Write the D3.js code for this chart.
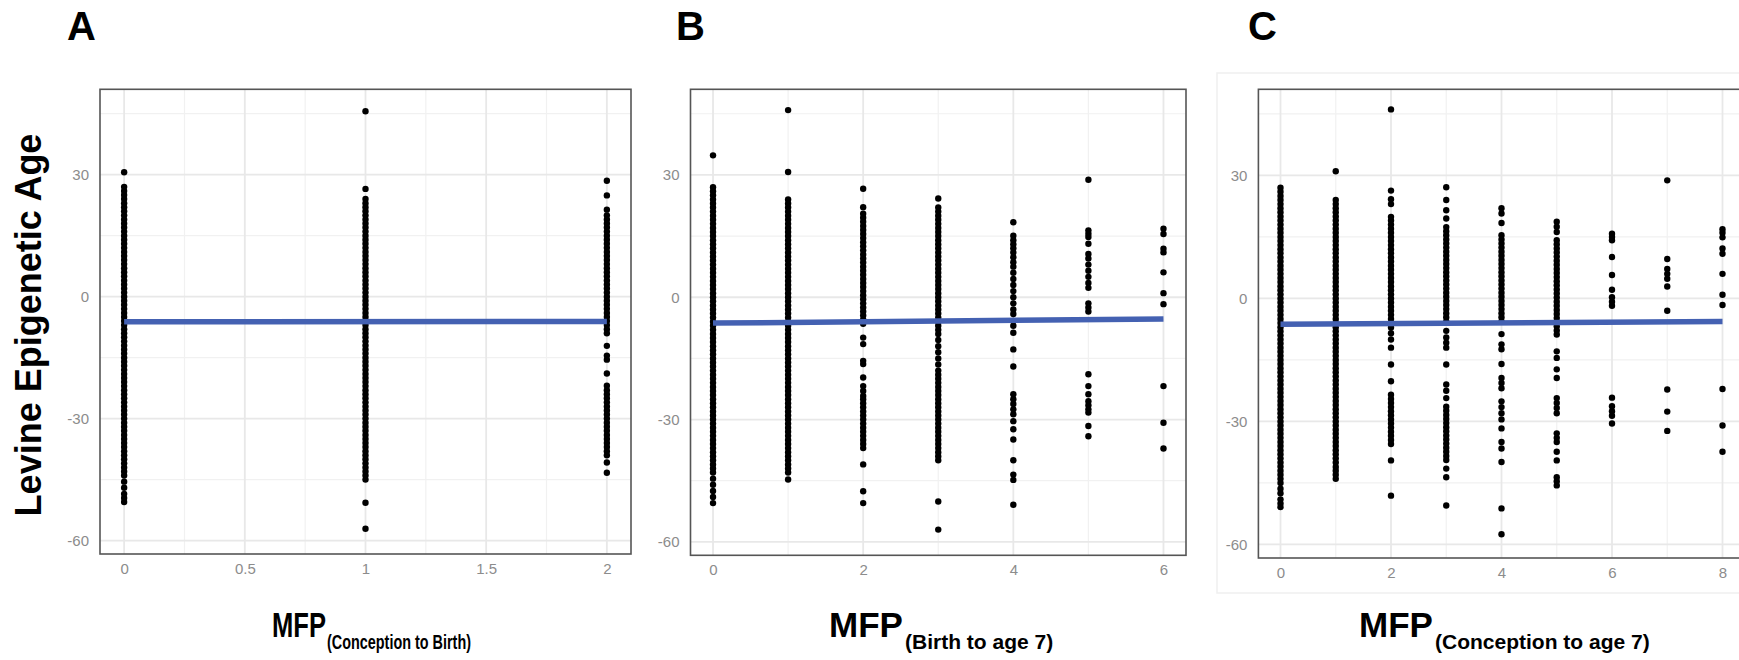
<!DOCTYPE html>
<html>
<head>
<meta charset="utf-8">
<script src="https://cdn.jsdelivr.net/npm/d3@7"></script>
<style>
  body { margin: 0; background: #fff; }
  svg { display: block; font-family: "Liberation Sans", Arial, sans-serif; }
</style>
</head>
<body>
<svg width="1739" height="660"></svg>
<script>
// ---- data ----
// x categories (MFP counts) per panel
const mfpA = [0, 1, 2]
const mfpB = [0, 1, 2, 3, 4, 5, 6]
const mfpC = [0, 1, 2, 3, 4, 5, 6, 7, 8]

// tick labels
const yTicks = [-60, -30, 0, 30]
const yMinor = [-45, -15, 15, 45]
const xTicksA = [0, 0.5, 1, 1.5, 2]
const xMinorA = [0.25, 0.75, 1.25, 1.75]
const xTicksB = [0, 2, 4, 6]
const xMinorB = [1, 3, 5]
const xTicksC = [0, 2, 4, 6, 8]
const xMinorC = [1, 3, 5, 7]

// panel A: Levine epigenetic age per MFP (conception to birth)
const aCol0 = [30.6, 27, 26, 25, 24, 23, 22, 21, 20, 19, 18, 17, 16, 15, 14, 13, 12, 11, 10, 9, 8, 7, 6, 5, 4, 3, 2, 1, 0,
  -1, -2, -3, -4, -5, -6, -7, -8, -9, -10, -11, -12, -13, -14, -15, -16, -17, -18, -19, -20, -21, -22, -23, -24, -25,
  -26, -27, -28, -29, -30, -31, -32, -33, -34, -35, -36, -37, -38, -39, -40, -41, -42, -43, -44, -45.5, -47, -48.5, -49.5, -50.5]
const aCol1 = [45.6, 26.5, 24, 23, 22, 21, 20, 19, 18, 17, 16, 15, 14, 13, 12, 11, 10, 9, 8, 7, 6, 5, 4, 3, 2, 1, 0,
  -1, -2, -3, -4, -5, -6, -7, -8, -9, -10, -11, -12, -13, -14, -15, -16, -17, -18, -19, -20, -21, -22, -23, -24, -25,
  -26, -27, -28, -29, -30, -31, -32, -33, -34, -35, -36, -37, -38, -39, -40, -41, -42, -43, -44, -45, -50.7, -57.1]
const aCol2 = [28.5, 24.9, 21.4, 20, 19, 18, 17, 16, 15, 14, 13, 12, 11, 10, 9, 8, 7, 6, 5, 4, 3, 2, 1, 0,
  -1, -2, -3, -4, -5, -6, -7, -8, -9, -12.1, -14.5, -15.5, -18.9, -21.9, -23, -24, -25, -26, -27, -28, -29, -30,
  -31, -32, -33, -34, -35, -36, -37, -38, -39, -40.8, -43.3]

// panel B: per MFP (birth to age 7)
const bCol0 = [34.8, 27, 26, 25, 24, 23, 22, 21, 20, 19, 18, 17, 16, 15, 14, 13, 12, 11, 10, 9, 8, 7, 6, 5, 4, 3, 2, 1, 0,
  -1, -2, -3, -4, -5, -6, -7, -8, -9, -10, -11, -12, -13, -14, -15, -16, -17, -18, -19, -20, -21, -22, -23, -24, -25,
  -26, -27, -28, -29, -30, -31, -32, -33, -34, -35, -36, -37, -38, -39, -40, -41, -42, -43, -44.5, -46, -47.5, -49, -50.5]
const bCol1 = [45.9, 30.7, 24, 23, 22, 21, 20, 19, 18, 17, 16, 15, 14, 13, 12, 11, 10, 9, 8, 7, 6, 5, 4, 3, 2, 1, 0,
  -1, -2, -3, -4, -5, -6, -7, -8, -9, -10, -11, -12, -13, -14, -15, -16, -17, -18, -19, -20, -21, -22, -23, -24, -25,
  -26, -27, -28, -29, -30, -31, -32, -33, -34, -35, -36, -37, -38, -39, -40, -41, -42, -43, -44.7]
const bCol2 = [26.6, 22.1, 20.5, 19.5, 18.5, 17.5, 16.5, 15.5, 14.5, 13.5, 12.5, 11.5, 10.5, 9.5, 8.5, 7.5, 6.5, 5.5,
  4.5, 3.5, 2.5, 1.5, 0.5, -0.5, -1.5, -2.5, -3.5, -4.5, -5.5, -6.5, -9.9, -11.5, -15.6, -16.4, -19.7, -21.8, -23, -24.2,
  -25, -26, -27, -28, -29, -30, -31, -32, -33, -34, -35, -36, -37, -41, -47.6, -50.5]
const bCol3 = [24.2, 22, 21, 20, 19, 18, 17, 16, 15, 14, 13, 12, 11, 10, 9, 8, 7, 6, 5, 4, 3, 2, 1, 0,
  -1, -2, -3, -4, -5, -6, -7, -8, -9, -10.5, -12, -13.5, -15, -16.5, -18, -19, -20, -21, -22, -23, -24, -25,
  -26, -27, -28, -29, -30, -31, -32, -33, -34, -35, -36, -37, -38, -39, -40, -50.1, -57]
const bCol4 = [18.4, 15.1, 14, 13, 12, 11, 9.8, 8.6, 7.5, 6, 4.5, 3, 1.5, 0, -1.5, -3, -4.1, -5.8, -7, -8.7, -12.8, -17,
  -23.8, -25, -26.2, -27.5, -28.7, -30.4, -32.4, -34.9, -40, -43.5, -44.8, -50.9]
const bCol5 = [28.8, 16.4, 15.6, 14.8, 13.1, 10.6, 9.5, 8, 6.5, 5, 3.5, 2.3, -1.5, -2.5, -3.5, -18.9, -21.8, -23.8,
  -25.5, -26.5, -27.5, -28.3, -31.6, -34.1]
const bCol6 = [16.8, 15.5, 11.9, 11, 6.1, 1, -1.7, -21.8, -30.8, -37.1]

// panel C: per MFP (conception to age 7)
const cCol0 = [27, 26, 25, 24, 23, 22, 21, 20, 19, 18, 17, 16, 15, 14, 13, 12, 11, 10, 9, 8, 7, 6, 5, 4, 3, 2, 1, 0,
  -1, -2, -3, -4, -5, -6, -7, -8, -9, -10, -11, -12, -13, -14, -15, -16, -17, -18, -19, -20, -21, -22, -23, -24, -25,
  -26, -27, -28, -29, -30, -31, -32, -33, -34, -35, -36, -37, -38, -39, -40, -41, -42, -43, -44, -45, -46.4, -47.5, -49, -50, -50.9]
const cCol1 = [31, 24, 23, 22, 21, 20, 19, 18, 17, 16, 15, 14, 13, 12, 11, 10, 9, 8, 7, 6, 5, 4, 3, 2, 1, 0,
  -1, -2, -3, -4, -5, -6, -7, -8, -9, -10, -11, -12, -13, -14, -15, -16, -17, -18, -19, -20, -21, -22, -23, -24, -25,
  -26, -27, -28, -29, -30, -31, -32, -33, -34, -35, -36, -37, -38, -39, -40, -41.1, -42, -43, -44]
const cCol2 = [46.1, 26.3, 24.2, 23, 19.9, 19, 18, 17, 16, 15, 14, 13, 12, 11, 10, 9, 8, 7, 6, 5, 4, 3, 2, 1, 0,
  -1, -2, -3, -4, -5, -7.1, -8.5, -10, -12, -16.1, -20.2, -23.5, -24.5, -25.5, -26.5, -27.5, -28.5, -29.5, -30.5,
  -31.5, -32.5, -33.5, -34.5, -35.5, -39.5, -48.1]
const cCol3 = [27.1, 24, 21.5, 19.5, 17.4, 16.4, 15.4, 14.4, 13.4, 12.4, 11.4, 10.4, 9.4, 8.4, 7.4, 6.4, 5.4, 4.4, 3.4,
  2.4, 1.4, 0.4, -0.6, -1.6, -2.6, -3.6, -4.6, -5.6, -7.9, -9.5, -10.8, -12, -16.1, -21, -22.5, -24.3, -26.4, -27.4,
  -28.4, -29.4, -30.4, -31.4, -32.4, -33.4, -34.4, -35.4, -36.4, -37.4, -38.4, -39.4, -41.5, -43.6, -50.5]
const cCol4 = [22, 20.7, 18.4, 15.4, 14.4, 13.4, 12.4, 11.4, 10.4, 9.4, 8.4, 7.4, 6.4, 5.4, 4.4, 3.4, 2.4, 1.4, 0.4,
  -0.6, -1.6, -2.6, -3.6, -4.6, -5.6, -8.7, -11.2, -12.4, -16, -19.4, -20.6, -21.9, -25.1, -26.5, -28, -29.5, -31.7,
  -35, -36.6, -39.9, -51.2, -57.5]
const cCol5 = [18.7, 17.5, 16.2, 14.2, 13.2, 12.2, 11.2, 10.2, 9.2, 8.2, 7.2, 6.2, 5.2, 4.2, 3.2, 2.2, 1.2, 0.2, -0.8,
  -1.8, -2.8, -3.8, -4.8, -5.8, -6.8, -7.8, -8.8, -12.9, -14.5, -17.3, -19.4, -24.3, -25.5, -26.7, -28, -32.9, -34,
  -35, -37.4, -39.5, -43.6, -44.6, -45.6]
const cCol6 = [15.8, 15, 14.2, 10.1, 5.7, 2.1, 0.3, -0.8, -1.8, -24.2, -26.3, -27.5, -28.6, -30.5]
const cCol7 = [28.8, 9.6, 7.2, 6, 4.8, 2.9, -3, -22.2, -27.6, -32.3]
const cCol8 = [16.9, 16, 14.9, 12.2, 10.9, 6, 0.9, -1.6, -22.1, -31, -37.4]

// linear fit lines (value at first and last MFP)
const fitA = [-6.2, -6.1]
const fitB = [-6.35, -5.35]
const fitC = [-6.3, -5.65]

const subtitles = ['(Conception to Birth)', '(Birth to age 7)', '(Conception to age 7)']

// ---- layout ----
const svg = d3.select('svg')
const yDomain = [-63.3, 51]

const panels = [
  { letter: 'A', letterX: 67, mfp: mfpA, cols: [aCol0, aCol1, aCol2], fit: fitA,
    xDomain: [-0.1, 2.1], left: 100, right: 631, top: 89.3, bottom: 554,
    ticks: xTicksA, minor: xMinorA, titleX: 272, mfpLen: 54, subLen: 144, sub: subtitles[0] },
  { letter: 'B', letterX: 676, mfp: mfpB, cols: [bCol0, bCol1, bCol2, bCol3, bCol4, bCol5, bCol6], fit: fitB,
    xDomain: [-0.3, 6.3], left: 690.5, right: 1186, top: 89.3, bottom: 555.3,
    ticks: xTicksB, minor: xMinorB, titleX: 829, sub: subtitles[1] },
  { letter: 'C', letterX: 1248, mfp: mfpC, cols: [cCol0, cCol1, cCol2, cCol3, cCol4, cCol5, cCol6, cCol7, cCol8], fit: fitC,
    xDomain: [-0.4, 8.4], left: 1258.4, right: 1744.6, top: 89.3, bottom: 558,
    ticks: xTicksC, minor: xMinorC, titleX: 1359, sub: subtitles[2] }
]

// faint edge of the pasted panel C image
svg.append('rect')
  .attr('x', 1217).attr('y', 73).attr('width', 560).attr('height', 520)
  .attr('fill', 'none').attr('stroke', '#efefef').attr('stroke-width', 1.5)

panels.forEach(p => {
  const x = d3.scaleLinear().domain(p.xDomain).range([p.left, p.right])
  const y = d3.scaleLinear().domain(yDomain).range([p.bottom, p.top])
  const g = svg.append('g')

  // gridlines
  g.selectAll('line.ymin').data(yMinor).enter().append('line')
    .attr('x1', p.left).attr('x2', p.right)
    .attr('y1', d => y(d)).attr('y2', d => y(d))
    .attr('stroke', '#f1f1f1').attr('stroke-width', 1.2)
  g.selectAll('line.xmin').data(p.minor).enter().append('line')
    .attr('y1', p.top).attr('y2', p.bottom)
    .attr('x1', d => x(d)).attr('x2', d => x(d))
    .attr('stroke', '#f1f1f1').attr('stroke-width', 1.2)
  g.selectAll('line.ymaj').data(yTicks).enter().append('line')
    .attr('x1', p.left).attr('x2', p.right)
    .attr('y1', d => y(d)).attr('y2', d => y(d))
    .attr('stroke', '#e8e8e8').attr('stroke-width', 1.8)
  g.selectAll('line.xmaj').data(p.ticks).enter().append('line')
    .attr('y1', p.top).attr('y2', p.bottom)
    .attr('x1', d => x(d)).attr('x2', d => x(d))
    .attr('stroke', '#e8e8e8').attr('stroke-width', 1.8)

  // points
  const pts = []
  p.cols.forEach((col, i) => col.forEach(v => pts.push({ m: p.mfp[i], v: v })))
  g.selectAll('circle').data(pts).enter().append('circle')
    .attr('cx', d => x(d.m)).attr('cy', d => y(d.v))
    .attr('r', 3.2).attr('fill', '#000')

  // fit line
  const last = p.mfp[p.mfp.length - 1]
  g.append('path')
    .datum([[0, p.fit[0]], [last, p.fit[1]]])
    .attr('d', d3.line().x(d => x(d[0])).y(d => y(d[1])))
    .attr('stroke', '#4461b2').attr('stroke-width', 5.5).attr('fill', 'none')

  // frame
  g.append('rect')
    .attr('x', p.left).attr('y', p.top)
    .attr('width', p.right - p.left).attr('height', p.bottom - p.top)
    .attr('fill', 'none').attr('stroke', '#555').attr('stroke-width', 1.6)

  // axes (labels only)
  const yAxis = d3.axisLeft(y).tickValues(yTicks).tickSize(0).tickPadding(11).tickFormat(d => String(d))
  const xAxis = d3.axisBottom(x).tickValues(p.ticks).tickSize(0).tickPadding(9).tickFormat(d => String(d))
  const ya = g.append('g').attr('transform', `translate(${p.left},0)`).call(yAxis)
  const xa = g.append('g').attr('transform', `translate(0,${p.bottom})`).call(xAxis)
  ;[ya, xa].forEach(a => {
    a.select('.domain').remove()
    a.selectAll('text').attr('fill', '#8c8c8c').style('font-size', '15px')
      .style('font-family', '"Liberation Sans", Arial, sans-serif')
  })

  // panel letter
  svg.append('text').attr('x', p.letterX).attr('y', 40)
    .attr('font-size', 40).attr('font-weight', 'bold').attr('fill', '#000')
    .text(p.letter)

  // x title with subscript
  const t1 = svg.append('text').attr('x', p.titleX).attr('y', 636.7)
    .attr('font-size', 35).attr('font-weight', 'bold').attr('fill', '#000')
    .text('MFP')
  const subX = p.mfpLen ? p.titleX + p.mfpLen + 1 : p.titleX + 76
  const t2 = svg.append('text').attr('x', subX).attr('y', 649)
    .attr('font-size', 21).attr('font-weight', 'bold').attr('fill', '#000')
    .text(p.sub)
  if (p.mfpLen) {
    t1.attr('textLength', p.mfpLen).attr('lengthAdjust', 'spacingAndGlyphs')
    t2.attr('textLength', p.subLen).attr('lengthAdjust', 'spacingAndGlyphs')
  }
})

// y title
svg.append('text')
  .attr('transform', 'translate(41,325) rotate(-90)')
  .attr('text-anchor', 'middle')
  .attr('font-size', 36).attr('font-weight', 'bold').attr('fill', '#000')
  .text('Levine Epigenetic Age')
</script>
</body>
</html>
